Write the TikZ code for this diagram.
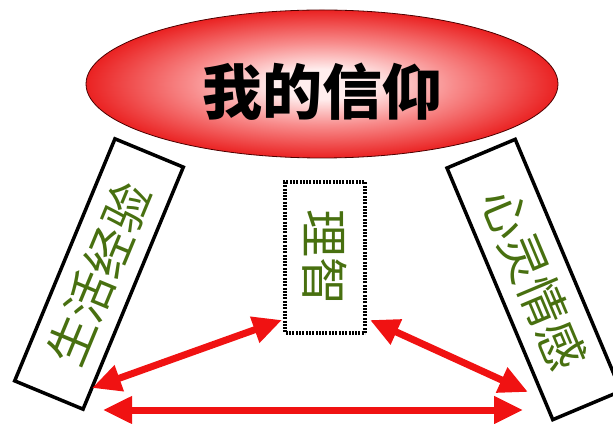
\documentclass[tikz,border=0pt]{standalone}
\usepackage{fontspec}
\newfontfamily\cjk{Noto Sans CJK SC}
\usetikzlibrary{arrows.meta,shapes.geometric}
\definecolor{ellin}{RGB}{255,238,238}
\definecolor{ellmid}{RGB}{248,140,140}
\definecolor{ellout}{RGB}{234,34,34}
\definecolor{txtgreen}{RGB}{72,112,16}
\definecolor{arrowred}{RGB}{240,18,18}
\pgfdeclareradialshading{ellshade}{\pgfpoint{0bp}{0bp}}{color(0bp)=(ellin); color(5bp)=(ellin); color(14bp)=(ellmid); color(25bp)=(ellout); color(50bp)=(ellout)}
\tikzset{
  tiltbox/.style={draw=black, line width=3.5pt, fill=white, minimum height=74pt, inner sep=0pt, text=txtgreen, font=\cjk\fontsize{48pt}{56pt}\selectfont},
  dotbox/.style={draw=black, line width=4pt, dash pattern=on 2pt off 1.3pt, fill=white, minimum width=151pt, minimum height=80pt, inner sep=0pt, text=txtgreen, font=\cjk\fontsize{48pt}{56pt}\selectfont},
  dblarrow/.style={draw=arrowred, line width=7pt, {Triangle[length=29pt,width=26pt]}-{Triangle[length=29pt,width=26pt]}}
}
\begin{document}
\begin{tikzpicture}[x=1pt,y=1pt]
\useasboundingbox (0,0) rectangle (613,423);
% side boxes
\node[tiltbox, minimum width=262pt, rotate=67.5] (life) at (99,149) {生活经验};
\node[tiltbox, minimum width=273pt, rotate=-67.2] (heart) at (534,143.5) {心灵情感};
% middle box
\node[dotbox, rotate=-90] (reason) at (325,165.5) {理智};
% ellipse
\node[ellipse, minimum width=472pt, minimum height=148pt, shade, shading=ellshade, draw=black!70!red, line width=0.8pt] (faith) at (322,339) {};
\node[font=\cjk\bfseries\fontsize{60pt}{70pt}\selectfont, text=black, inner sep=0pt] (title) at (322,331) {我的信仰};
% arrow end points
\coordinate (a1) at (92,35);
\coordinate (a2) at (282,103);
\coordinate (b1) at (370,103);
\coordinate (b2) at (528,31);
\coordinate (c1) at (103,13);
\coordinate (c2) at (523,13);
\draw[dblarrow] (a1) -- (a2);
\draw[dblarrow] (b1) -- (b2);
\draw[dblarrow] (c1) -- (c2);
\end{tikzpicture}
\end{document}
